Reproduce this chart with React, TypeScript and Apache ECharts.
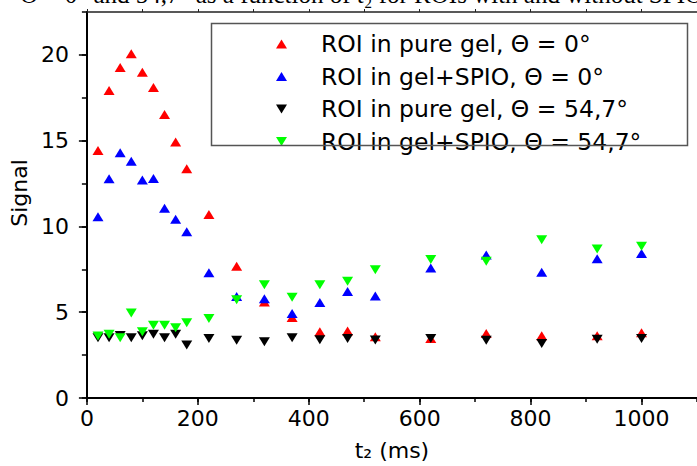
import React, { useEffect, useRef } from "react";
import * as echarts from "echarts";

// t2 (ms)
const t2 = [20, 40, 60, 80, 100, 120, 140, 160, 180, 220, 270, 320, 370, 420, 470, 520, 620, 720, 820, 920, 1000];
// ROI in pure gel, Θ = 0°
const pureGel0 = [14.43, 17.93, 19.26, 20.07, 18.99, 18.1, 16.52, 14.92, 13.36, 10.69, 7.68, 5.6, 4.69, 3.86, 3.9, 3.57, 3.47, 3.76, 3.63, 3.63, 3.8];
// ROI in gel+SPIO, Θ = 0°
const spio0 = [10.56, 12.78, 14.3, 13.8, 12.7, 12.8, 11.06, 10.42, 9.69, 7.3, 5.92, 5.79, 4.92, 5.56, 6.21, 5.94, 7.58, 8.34, 7.33, 8.11, 8.43];
// ROI in pure gel, Θ = 54,7°
const pureGel547 = [3.51, 3.51, 3.65, 3.51, 3.63, 3.71, 3.51, 3.71, 3.09, 3.47, 3.36, 3.28, 3.51, 3.4, 3.47, 3.38, 3.47, 3.36, 3.18, 3.43, 3.47];
// ROI in gel+SPIO, Θ = 54,7°
const spio547 = [3.61, 3.71, 3.51, 4.96, 3.86, 4.24, 4.24, 4.09, 4.38, 4.63, 5.73, 6.6, 5.87, 6.6, 6.81, 7.47, 8.07, 7.97, 9.22, 8.68, 8.84];

const seriesNames = [
  "ROI in pure gel, Θ = 0°",
  "ROI in gel+SPIO, Θ = 0°",
  "ROI in pure gel, Θ = 54,7°",
  "ROI in gel+SPIO, Θ = 54,7°",
];
const seriesColors = ["#ff0000", "#0000ff", "#000000", "#00ff00"];
const seriesValues = [pureGel0, spio0, pureGel547, spio547];
const seriesUp = [true, true, false, false];

const titleText = "Θ = 0° and 54,7° as a function of t₂ for ROIs with and without SPIO";

const FONT = "DejaVu Sans";
const DOWN = "path://M0 0 L11 0 L5.5 9 Z";

export default function App() {
  const ref = useRef<HTMLDivElement>(null);
  useEffect(() => {
    if (!ref.current) return;
    const chart = echarts.init(ref.current, undefined, { renderer: "svg" });
    const minorTick = (len: number) => ({ show: true, length: len, lineStyle: { color: "#000", width: 1.5 } });
    chart.setOption({
      animation: false,
      backgroundColor: "#fff",
      grid: { left: 81, top: 12, width: 620, height: 388, containLabel: false },
      xAxis: [
        {
          type: "value", min: 0, max: 1100, interval: 200, position: "bottom",
          axisLine: { show: true, onZero: false, lineStyle: { color: "#000", width: 2 } },
          axisTick: { show: true, length: 7, lineStyle: { color: "#000", width: 1.5 } },
          axisLabel: {
            showMaxLabel: false, margin: 9, fontFamily: FONT, fontSize: 22, color: "#000",
            formatter: (v: number) => String(v),
          },
          splitLine: { show: false },
          name: "t₂ (ms)", nameLocation: "middle", nameGap: 41,
          nameTextStyle: { fontFamily: FONT, fontSize: 22, color: "#000" },
        },
        {
          type: "value", min: 0, max: 1100, interval: 100, position: "bottom",
          axisLine: { show: false }, axisTick: minorTick(4), axisLabel: { show: false }, splitLine: { show: false },
        },
        {
          type: "value", min: 0, max: 1100, interval: 100, position: "top",
          axisLine: { show: true, onZero: false, lineStyle: { color: "#222", width: 1.5 } },
          axisTick: { show: true, length: 3, lineStyle: { color: "#222", width: 1 } },
          axisLabel: { show: false }, splitLine: { show: false },
        },
      ],
      yAxis: [
        {
          type: "value", min: 0, max: 22.5, interval: 5, position: "left",
          axisLine: { show: true, onZero: false, lineStyle: { color: "#000", width: 2 } },
          axisTick: { show: true, length: 8, lineStyle: { color: "#000", width: 1.5 } },
          axisLabel: {
            showMaxLabel: false, margin: 18, fontFamily: FONT, fontSize: 22, color: "#000",
            formatter: (v: number) => String(v),
          },
          splitLine: { show: false },
          name: "Signal", nameLocation: "middle", nameGap: 51,
          nameTextStyle: { fontFamily: FONT, fontSize: 22, color: "#000", padding: [0, 0, 0, 24] },
        },
        {
          type: "value", min: 0, max: 22.5, interval: 2.5, position: "left",
          axisLine: { show: false }, axisTick: minorTick(5), axisLabel: { show: false }, splitLine: { show: false },
        },
      ],
      legend: {
        orient: "vertical", left: 276, top: 32, padding: 0,
        itemWidth: 11, itemHeight: 9, itemGap: 8.5,
        textStyle: { fontFamily: FONT, fontSize: 23.5, color: "#000", lineHeight: 20, padding: [0, 0, 0, 29] },
        data: seriesNames,
      },
      graphic: [
        {
          type: "rect", shape: { x: 211.5, y: 23.5, width: 476, height: 122 },
          style: { fill: "none", stroke: "#555", lineWidth: 1.5 }, z: 10,
        },
        {
          type: "text", x: 20, y: 7,
          style: { text: titleText, font: '25px "Liberation Serif"', fill: "#000", verticalAlign: "bottom" },
        },
      ],
      series: seriesNames.map((name, k) => ({
        type: "scatter", name, xAxisIndex: 0, yAxisIndex: 0,
        symbol: seriesUp[k] ? "triangle" : DOWN,
        symbolSize: [11, 9],
        itemStyle: { color: seriesColors[k], opacity: 1 },
        data: t2.map((t, i) => [t, seriesValues[k][i]]),
        z: 2 + k,
      })),
    });
    return () => chart.dispose();
  }, []);
  return <div ref={ref} style={{ position: "absolute", left: 0, top: 0, width: 697, height: 466 }} />;
}
